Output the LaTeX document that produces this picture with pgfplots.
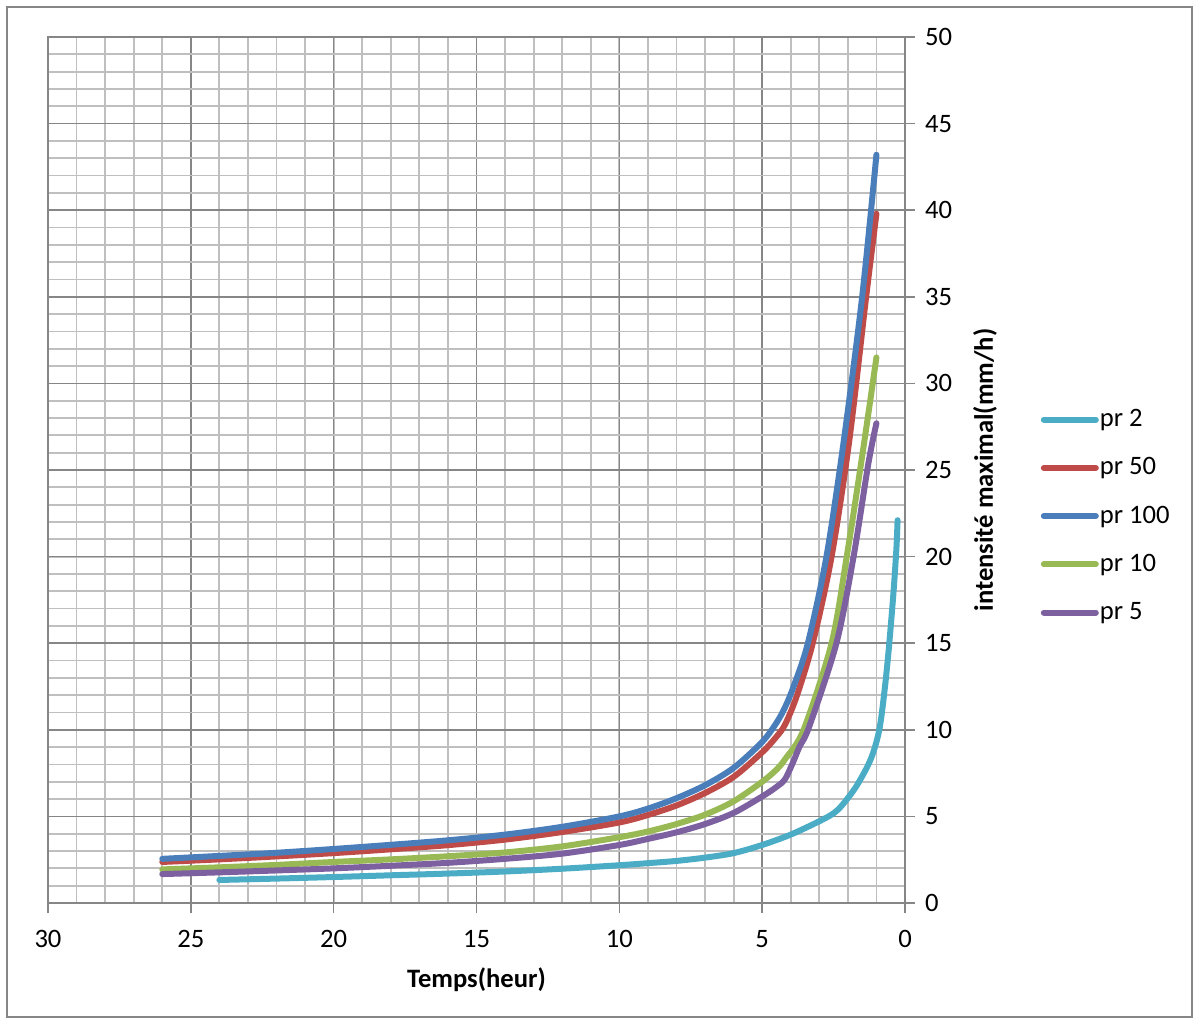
\documentclass[border=0pt]{standalone}
\usepackage{fontspec}
\setmainfont{Carlito}
\usepackage{pgfplots}
\usepackage{pgfplotstable}
\pgfplotsset{compat=1.18}
\definecolor{cPtwo}{HTML}{4BACC6}
\definecolor{cPfifty}{HTML}{BE4B48}
\definecolor{cPhundred}{HTML}{4A7EBB}
\definecolor{cPten}{HTML}{98B954}
\definecolor{cPfive}{HTML}{7D60A0}
\definecolor{gmaj}{HTML}{868686}
\definecolor{gmin}{HTML}{BFBFBF}

\pgfplotstableread{
x y
24 1.33
22 1.41
20 1.5
18 1.6
16 1.7
14 1.82
12 1.98
10 2.18
9 2.3
8 2.43
7 2.62
6 2.88
5 3.35
4 3.95
3 4.72
2.5 5.18
2.2 5.65
1.7 6.75
1.2 8.3
0.9 10.0
0.7 12.5
0.55 15.0
0.4 18.0
0.3 20.5
0.26 22.1
}\ptwo

\pgfplotstableread{
x y
26 2.37
24 2.52
22 2.69
20 2.88
18 3.1
16 3.34
14 3.66
12 4.1
10 4.65
9 5.08
8 5.63
7 6.35
6 7.28
5 8.7
4.5 9.6
4.2 10.3
3.8 11.9
3.23 15.0
2.57 20.0
1.95 26.7
1.36 35.0
1.0 39.8
}\pfifty

\pgfplotstableread{
x y
26 2.55
24 2.72
22 2.9
20 3.12
18 3.36
16 3.62
14 3.95
12 4.4
10 5.0
9 5.45
8 6.05
7 6.8
6 7.8
5 9.3
4.5 10.4
4.2 11.3
3.9 12.5
3.4 15.0
2.75 20.0
2.15 26.6
1.5 35.0
1.0 43.2
}\phundred

\pgfplotstableread{
x y
26 1.94
24 2.06
22 2.2
20 2.37
18 2.52
16 2.7
14 2.92
12 3.27
10 3.8
9 4.13
8 4.56
7 5.1
6 5.87
5 7.0
4.5 7.7
4.2 8.3
3.55 10.0
2.57 15.0
2.04 20.0
1.5 25.8
1.0 31.5
}\pten

\pgfplotstableread{
x y
26 1.67
24 1.77
22 1.88
20 2.0
18 2.15
16 2.32
14 2.55
12 2.85
10 3.35
9 3.7
8 4.08
7 4.56
6 5.2
5 6.15
4.5 6.7
4.2 7.15
3.9 8.2
3.7 9.0
3.35 10.2
2.4 15.0
1.8 20.0
1.28 25.4
1.0 27.7
}\pfive

\begin{document}
\begin{tikzpicture}[font=\fontsize{13.3}{16}\selectfont]
\useasboundingbox (-24pt,-60pt) rectangle (574.5pt,451.5pt);
\draw[gmaj, line width=0.75pt] (-20.5pt,-57pt) rectangle (572pt,448pt);
\begin{axis}[
  at={(0pt,0pt)}, anchor=south west,
  scale only axis, width=428.5pt, height=433pt,
  xmin=0, xmax=30, ymin=0, ymax=50, x dir=reverse,
  xtick={0,5,...,30}, ytick={0,5,...,50},
  minor xtick={0,...,30}, minor ytick={0,...,50},
  grid=both,
  major grid style={draw=gmaj, line width=0.8pt},
  minor grid style={draw=gmin, line width=0.9pt},
  axis line style={draw=gmaj, line width=0.8pt},
  tick style={draw=gmaj, line width=0.8pt},
  tick align=outside, major tick length=5pt, minor tick length=0pt,
  xtick pos=left, ytick pos=right,
  xticklabel style={yshift=-5pt},
  yticklabel style={xshift=1.5pt},
  /pgf/number format/assume math mode=true,
  every axis x label/.style={at={(axis description cs:0.5,-0.0889)}, anchor=center},
  every axis y label/.style={at={(axis description cs:1.0933,0.5)}, rotate=90, anchor=center},
  xlabel={\bfseries Temps(heur)},
  ylabel={\bfseries intensité maximal(mm/h)},
  legend style={draw=none, fill=none, at={(axis description cs:1.151,0.4469)}, anchor=west, row sep=13pt, nodes={inner sep=0.5pt}},
  legend cell align=left,
  legend image code/.code={\draw[#1, line width=3pt] (0pt,0pt) -- (26pt,0pt);},
  every axis plot/.append style={line width=3pt, line cap=round, line join=round},
]
\addplot[cPtwo, smooth] table[x=x,y=y] {\ptwo};
\addlegendentry{pr 2}
\addplot[cPfifty, smooth] table[x=x,y=y] {\pfifty};
\addlegendentry{pr 50}
\addplot[cPhundred, smooth] table[x=x,y=y] {\phundred};
\addlegendentry{pr 100}
\addplot[cPten, smooth] table[x=x,y=y] {\pten};
\addlegendentry{pr 10}
\addplot[cPfive, smooth] table[x=x,y=y] {\pfive};
\addlegendentry{pr 5}
\end{axis}
\end{tikzpicture}
\end{document}
